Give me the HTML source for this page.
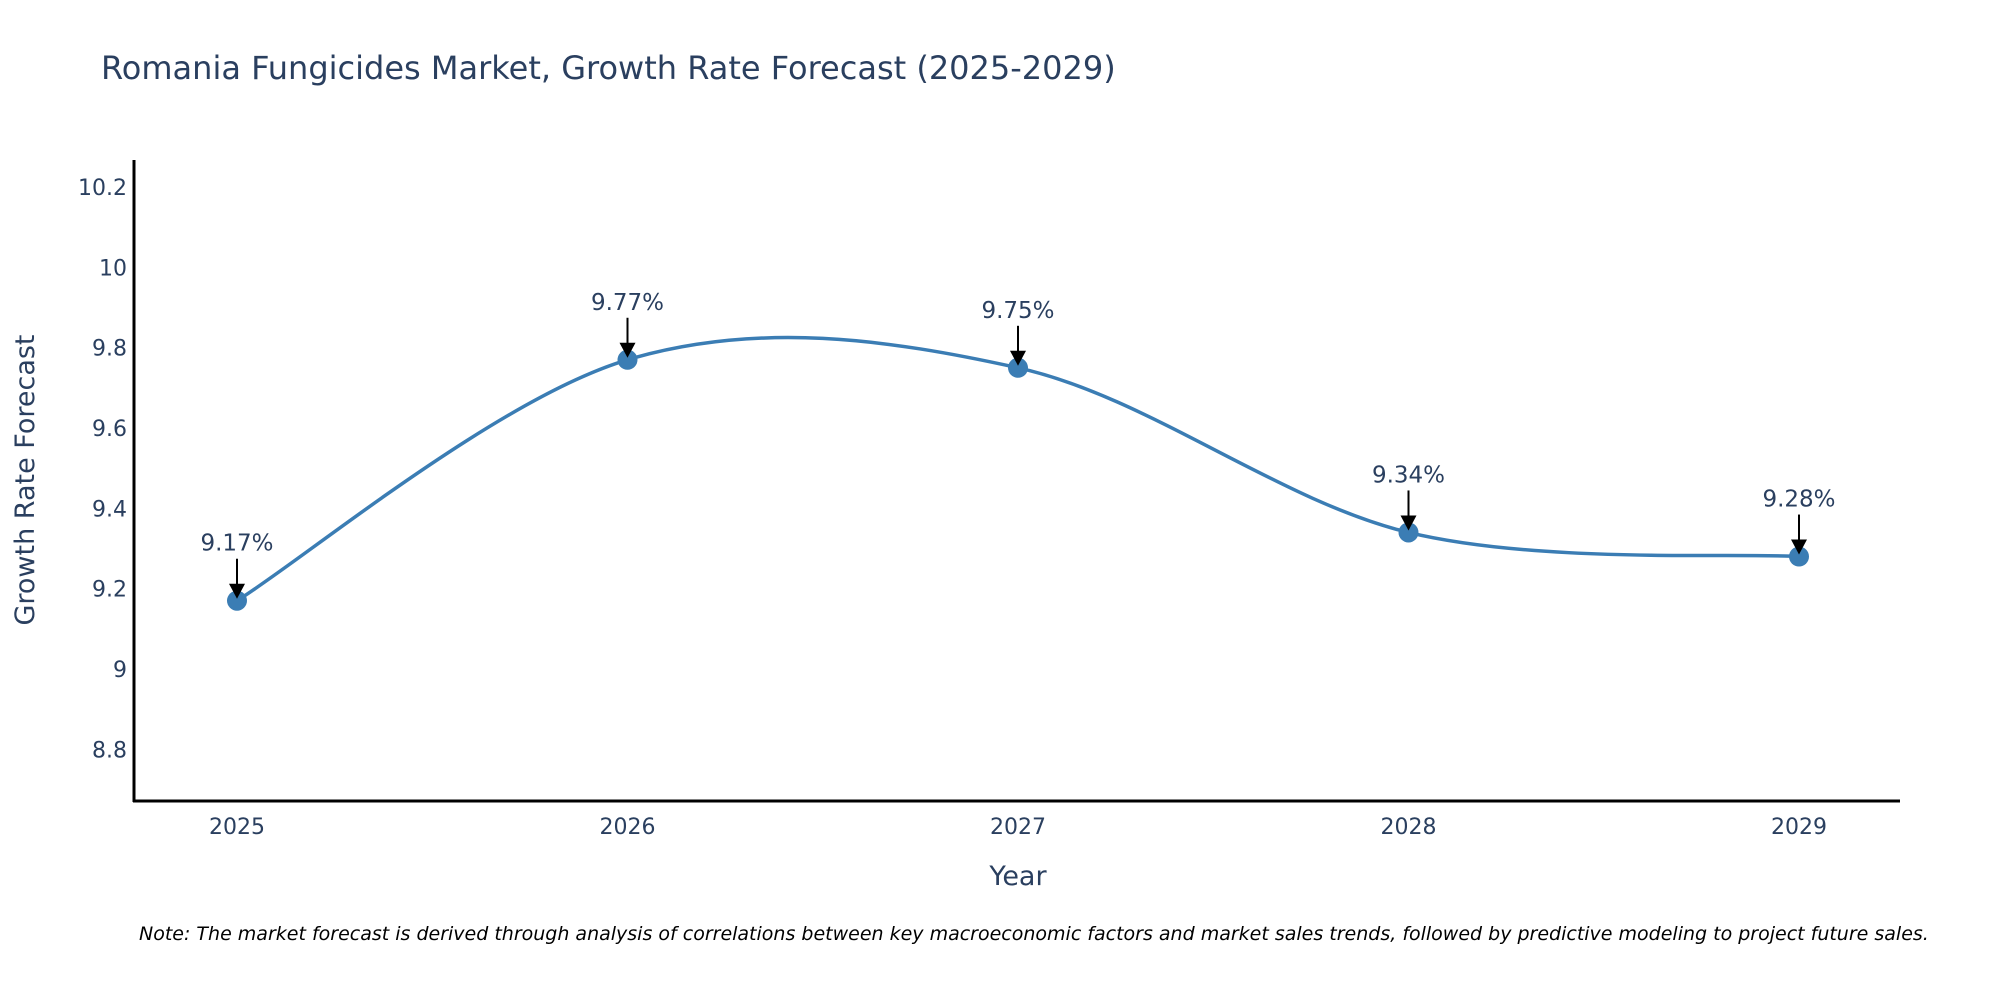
<!DOCTYPE html>
<html><head><meta charset="utf-8"><style>
body{margin:0;background:#fff;}
svg{display:block;font-family:"DejaVu Sans","Liberation Sans",sans-serif;}
</style></head><body>
<svg width="2000" height="1000" viewBox="0 0 2000 1000">
<text x="101" y="79" font-size="32" fill="#2a3f5f">Romania Fungicides Market, Growth Rate Forecast (2025-2029)</text>
<g id="yticks"></g>
<g id="xticks"></g>
<line x1="134" y1="160" x2="134" y2="802" stroke="#000" stroke-width="3"/>
<line x1="133" y1="801" x2="1900" y2="801" stroke="#000" stroke-width="3"/>
<path id="curve" fill="none" stroke="#3b7db4" stroke-width="3.5"/>
<g id="marks"></g>
<text x="34" y="480" font-size="27" fill="#2a3f5f" text-anchor="middle" transform="rotate(-90 34 480)">Growth Rate Forecast</text>
<text x="1018" y="885" font-size="27" fill="#2a3f5f" text-anchor="middle">Year</text>
<text x="139" y="940" font-size="19" font-style="italic" fill="#000">Note: The market forecast is derived through analysis of correlations between key macroeconomic factors and market sales trends, followed by predictive modeling to project future sales.</text>
</svg>
<script>
const categories=["2025","2026","2027","2028","2029"];
const values=[9.17,9.77,9.75,9.34,9.28];
const yTicks=[8.8,9,9.2,9.4,9.6,9.8,10,10.2];
const yTickLabels=["8.8","9","9.2","9.4","9.6","9.8","10","10.2"];
const NS="http://www.w3.org/2000/svg";
function xs(i){return 237+i*390.5;}
function ys(v){return 669-(v-9)*401.6;}
const yt=document.getElementById('yticks');
yTicks.forEach((t,i)=>{const e=document.createElementNS(NS,'text');


e.setAttribute('x',127);e.setAttribute('y',ys(t)+8);e.setAttribute('text-anchor','end');
e.setAttribute('font-size','22');e.setAttribute('fill','#2a3f5f');e.textContent=yTickLabels[i];yt.appendChild(e);});
const xt=document.getElementById('xticks');
categories.forEach((c,i)=>{const e=document.createElementNS(NS,'text');


e.setAttribute('x',xs(i));e.setAttribute('y',834);e.setAttribute('text-anchor','middle');
e.setAttribute('font-size','22');e.setAttribute('fill','#2a3f5f');e.textContent=c;xt.appendChild(e);});
const pts=values.map((v,i)=>[xs(i),ys(v)]);
let d='M'+pts[0][0]+','+pts[0][1];
for(let i=0;i<pts.length-1;i++){
 const p0=pts[Math.max(i-1,0)],p1=pts[i],p2=pts[i+1],p3=pts[Math.min(i+2,pts.length-1)];
 const c1=[p1[0]+(p2[0]-p0[0])/6,p1[1]+(p2[1]-p0[1])/6];
 const c2=[p2[0]-(p3[0]-p1[0])/6,p2[1]-(p3[1]-p1[1])/6];
 d+=' C'+c1+' '+c2+' '+p2;
}
document.getElementById('curve').setAttribute('d',d);
const mk=document.getElementById('marks');
pts.forEach((p,i)=>{
 const c=document.createElementNS(NS,'circle');
 
 
 c.setAttribute('cx',p[0]);c.setAttribute('cy',p[1]);c.setAttribute('r',10);c.setAttribute('fill','#3b7db4');mk.appendChild(c);
 const l=document.createElementNS(NS,'line');
 
 
 l.setAttribute('x1',p[0]);l.setAttribute('x2',p[0]);l.setAttribute('y1',p[1]-42);l.setAttribute('y2',p[1]-14);
 l.setAttribute('stroke','#000');l.setAttribute('stroke-width','2');mk.appendChild(l);
 const h=document.createElementNS(NS,'polygon');
 
 
 h.setAttribute('points',(p[0]-8)+','+(p[1]-17)+' '+(p[0]+8)+','+(p[1]-17)+' '+p[0]+','+(p[1]-2));
 h.setAttribute('fill','#000');mk.appendChild(h);
 const t=document.createElementNS(NS,'text');
 
 
 t.setAttribute('x',p[0]);t.setAttribute('y',p[1]-50);t.setAttribute('text-anchor','middle');
 t.setAttribute('font-size','23');t.setAttribute('fill','#2a3f5f');t.textContent=values[i].toFixed(2)+'%';mk.appendChild(t);
});
</script>
</body></html>
